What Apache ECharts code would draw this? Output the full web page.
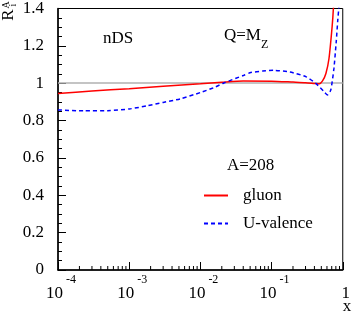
<!DOCTYPE html>
<html>
<head>
<meta charset="utf-8">
<script src="https://cdn.jsdelivr.net/npm/echarts@6/dist/echarts.min.js"></script>
<style>
html,body{margin:0;padding:0;background:#fff;}
#chart{width:353px;height:313px;}
</style>
</head>
<body>
<div id="chart"></div>
<script>
// ---- data ----
var gluonX = [1e-4, 3e-4, 1e-3, 3e-3, 0.01, 0.02, 0.04, 0.1, 0.2, 0.3, 0.4, 0.47, 0.52, 0.58, 0.64, 0.71, 0.74, 0.77];
var gluonY = [0.945, 0.958, 0.971, 0.984, 0.997, 1.005, 1.012, 1.011, 1.006, 1.003, 0.999, 0.997, 1.012, 1.052, 1.131, 1.305, 1.405, 1.55];

var valenceX = [1e-4, 2.35e-4, 5e-4, 1e-3, 1.84e-3, 3e-3, 5.2e-3, 0.01, 0.0154, 0.021, 0.041, 0.051, 0.075, 0.107, 0.181, 0.307, 0.421, 0.548, 0.608, 0.678, 0.751, 0.809, 0.853, 0.881, 0.9];
var valenceY = [0.857, 0.852, 0.853, 0.862, 0.880, 0.897, 0.916, 0.950, 0.976, 1.0, 1.043, 1.057, 1.065, 1.069, 1.060, 1.034, 0.998, 0.954, 0.937, 0.963, 1.078, 1.22, 1.343, 1.405, 1.5];

var seriesNames = ['gluon', 'U-valence'];
var yTicks = [0, 0.2, 0.4, 0.6, 0.8, 1, 1.2, 1.4];
var xDecades = [-4, -3, -2, -1, 0];
var refLevel = 1;

// minor tick positions on log axis (2..9 x 10^d)
var minorX = [];
for (var d = -4; d < 0; d++) {
  for (var k = 2; k <= 9; k++) minorX.push(k * Math.pow(10, d));
}

function pairs(xs, ys) { return xs.map(function (x, i) { return [x, ys[i]]; }); }

var FONT = '"Liberation Serif", "DejaVu Serif", serif';
var chart = echarts.init(document.getElementById('chart'), null, {renderer: 'canvas'});

chart.setOption({
  animation: false,
  backgroundColor: '#fff',
  grid: {left: 58, right: 4, top: 6, bottom: 43, show: true, borderColor: '#000', borderWidth: 1, backgroundColor: 'transparent'},
  xAxis: {
    type: 'log', logBase: 10, min: 1e-4, max: 1,
    axisLine: {show: true, lineStyle: {color: '#000', width: 1.5}},
    axisTick: {show: true, inside: true, length: 8, lineStyle: {color: '#000', width: 1}},
    splitLine: {show: false},
    axisLabel: {
      margin: 4,
      padding: [0, 0, 0, 6],
      formatter: function (v) {
        var e = Math.round(Math.log(v) / Math.LN10);
        if (e === 0) return '{b|1}';
        return '{b|10}{s|' + e + '}';
      },
      rich: {
        b: {fontSize: 17, fontFamily: FONT, color: '#000', lineHeight: 28, verticalAlign: 'bottom'},
        s: {fontSize: 12, fontFamily: FONT, color: '#000', lineHeight: 12, verticalAlign: 'top', padding: [0, 0, 0, 3]}
      }
    }
  },
  yAxis: {
    type: 'value', min: 0, max: 1.4, interval: 0.2,
    axisLine: {show: true, lineStyle: {color: '#000', width: 1.5}},
    axisTick: {show: true, inside: true, length: 8, lineStyle: {color: '#000', width: 1}},
    minorTick: {show: true, splitNumber: 4, length: 4, lineStyle: {color: '#000', width: 1}},
    splitLine: {show: false},
    axisLabel: {
      margin: 14, color: '#000', fontSize: 17, fontFamily: FONT,
      formatter: function (v) { return String(Math.round(v * 10) / 10); }
    }
  },
  legend: {
    orient: 'vertical', left: 203, top: 187, padding: 0,
    itemWidth: 24, itemHeight: 14, itemGap: 11,
    itemStyle: {opacity: 0},
    data: seriesNames,
    textStyle: {fontSize: 17, fontFamily: FONT, color: '#000', lineHeight: 14, padding: [0, 0, 0, 10]}
  },
  series: [
    {
      name: seriesNames[0], type: 'line', data: pairs(gluonX, gluonY),
      symbol: 'none', smooth: 0.2, clip: true, z: 3,
      lineStyle: {color: '#ff0000', width: 1.5},
      itemStyle: {color: '#ff0000'},
      markLine: {
        silent: true, symbol: 'none', label: {show: false},
        lineStyle: {color: '#b0b0b0', type: 'solid', width: 1.5},
        data: [{yAxis: refLevel}], z: 1
      }
    },
    {
      name: seriesNames[1], type: 'line', data: pairs(valenceX, valenceY),
      symbol: 'none', smooth: 0.2, clip: true, z: 4,
      lineStyle: {color: '#0000ff', width: 1.5, type: [4, 3]},
      itemStyle: {color: '#0000ff'}
    },
    {
      name: 'minorTicks', type: 'custom', silent: true, clip: false,
      data: minorX.map(function (x) { return [x, 0]; }),
      renderItem: function (params, api) {
        var p = api.coord([api.value(0), 0]);
        return {type: 'line', shape: {x1: p[0], y1: p[1], x2: p[0], y2: p[1] - 4}, style: {stroke: '#000', lineWidth: 1}};
      }
    }
  ],
  graphic: [
    {type: 'text', x: 103, y: 39, style: {text: 'nDS', font: '17px ' + FONT, fill: '#000', verticalAlign: 'middle'}},
    {type: 'text', x: 224, y: 39, style: {
      text: '{b|Q=M}{s|Z}', verticalAlign: 'middle',
      rich: {
        b: {fontSize: 17, fontFamily: FONT, fill: '#000', color: '#000', lineHeight: 24, verticalAlign: 'top'},
        s: {fontSize: 12, fontFamily: FONT, color: '#000', lineHeight: 12, verticalAlign: 'bottom'}
      }}},
    {type: 'text', x: 227, y: 166, style: {text: 'A=208', font: '17px ' + FONT, fill: '#000', verticalAlign: 'middle'}},
    {type: 'text', x: 347, y: 307, style: {text: 'x', font: '17px ' + FONT, fill: '#000', align: 'center', verticalAlign: 'middle'}},
    {type: 'text', x: 9, y: 15, rotation: Math.PI / 2, style: {text: 'R', font: '17px ' + FONT, fill: '#000', align: 'center', verticalAlign: 'middle'}},
    {type: 'text', x: 6, y: 5, rotation: Math.PI / 2, style: {text: 'A', font: '10px ' + FONT, fill: '#000', align: 'center', verticalAlign: 'middle'}},
    {type: 'text', x: 13, y: 5, rotation: Math.PI / 2, style: {text: 'i', font: '10px ' + FONT, fill: '#000', align: 'center', verticalAlign: 'middle'}}
  ]
});
</script>
</body>
</html>
